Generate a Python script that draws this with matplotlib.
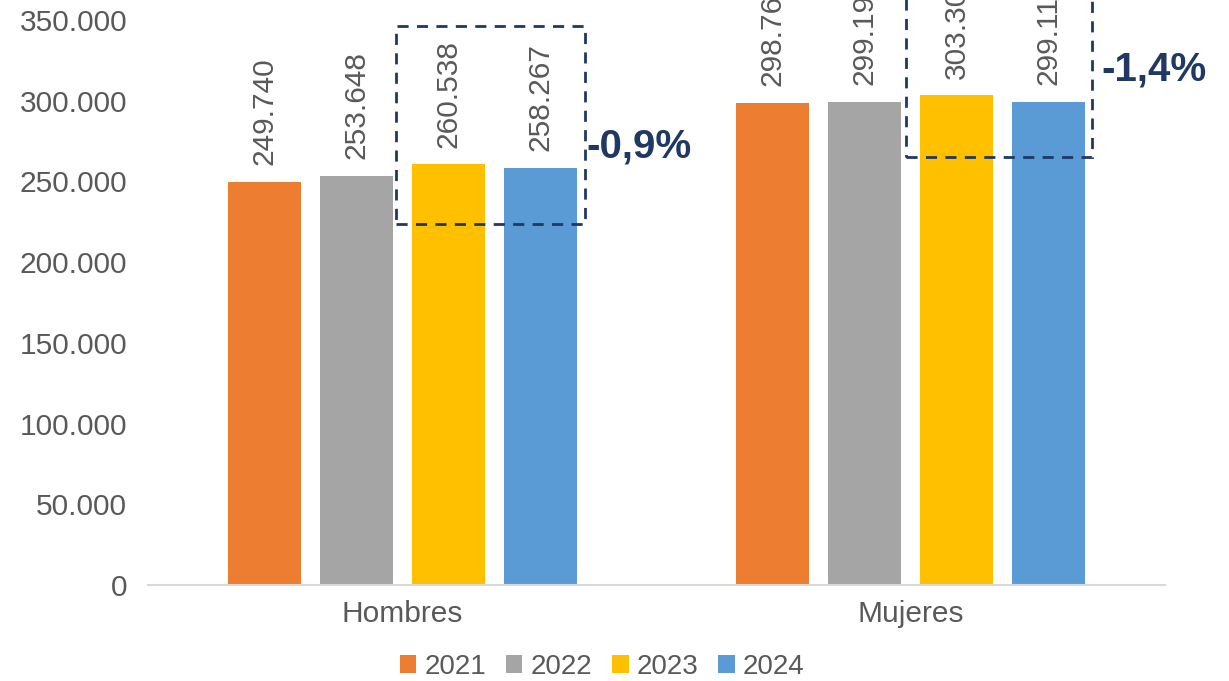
import matplotlib.pyplot as plt
from matplotlib.patches import Rectangle
from matplotlib.ticker import FuncFormatter
import numpy as np

plt.rcParams['font.family'] = ['Liberation Sans', 'DejaVu Sans']

categories = ['Hombres', 'Mujeres']
years = ['2021', '2022', '2023', '2024']
values = {
    '2021': [249740, 298763],
    '2022': [253648, 299194],
    '2023': [260538, 303305],
    '2024': [258267, 299112],
}
colors = ['#ED7D31', '#A5A5A5', '#FFC000', '#5B9BD5']
changes = ['-0,9%', '-1,4%']

navy = '#1F3864'
txt = '#595959'

fig = plt.figure(figsize=(12.29, 6.81), dpi=100)
ax = fig.add_axes([0.1204, 0.141, 0.8275, 0.8296])

x = np.arange(len(categories))
width = 0.1436
pitch = 0.181
for i, (yr, c) in enumerate(zip(years, colors)):
    pos = x + (i - 1.5) * pitch
    bars = ax.bar(pos, values[yr], width, color=c, label=yr)
    for b, v in zip(bars, values[yr]):
        ax.annotate(f'{v:,}'.replace(',', '.'), (b.get_x() + b.get_width() / 2, v),
                    xytext=(0, 12), textcoords='offset points', rotation=90,
                    ha='center', va='bottom', fontsize=21.5, color=txt,
                    annotation_clip=False)

# dashed boxes around 2023-2024 with change labels
boxes = [(-0.0123, 0.3594, 223700, 346300), (0.9906, 1.3564, 265200, 400000)]
label_pos = [(0.362, 271400), (1.375, 319500)]
for (x0, x1, y0, y1), (lx, ly), ch in zip(boxes, label_pos, changes):
    ax.add_patch(Rectangle((x0, y0), x1 - x0, y1 - y0, fill=False, ec=navy,
                           lw=2, ls=(0, (4, 3)), clip_on=False, zorder=5))
    ax.text(lx, ly, ch, fontsize=29, fontweight='bold', color=navy,
            ha='left', va='center', clip_on=False)

ax.set_xlim(-0.5, 1.5)
ax.set_ylim(0, 350000)
ax.set_yticks(np.arange(0, 350001, 50000))
ax.yaxis.set_major_formatter(FuncFormatter(lambda v, p: f'{int(v):,}'.replace(',', '.')))
ax.set_xticks(x)
ax.set_xticklabels(categories)
ax.tick_params(axis='y', length=0, pad=15, labelsize=21.5, labelcolor=txt)
ax.tick_params(axis='x', length=0, pad=11, labelsize=21.5, labelcolor=txt)
for s in ['top', 'right', 'left']:
    ax.spines[s].set_visible(False)
ax.spines['bottom'].set_color('#D9D9D9')
ax.spines['bottom'].set_linewidth(1.5)

fig.legend(loc='center', bbox_to_anchor=(0.49, 0.021), ncol=4, frameon=False,
           fontsize=20, handlelength=0.6, handleheight=0.6, handletextpad=0.3,
           columnspacing=0.7, labelcolor=txt)

fig.savefig('out.png', dpi=100)
